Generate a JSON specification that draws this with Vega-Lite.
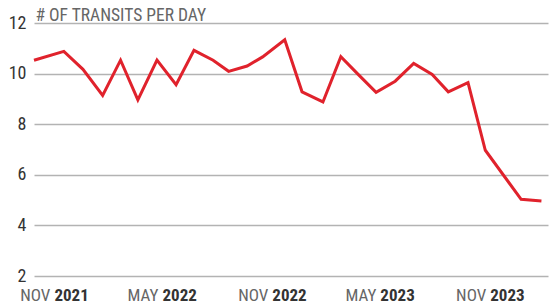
{
  "$schema": "https://vega.github.io/schema/vega-lite/v6.json",
  "width": 514,
  "height": 253,
  "autosize": "none",
  "padding": {"left": 34, "top": 23, "right": 3, "bottom": 27},
  "background": "white",
  "config": {
    "view": {"stroke": null},
    "font": "Liberation Sans Narrow, Roboto Condensed, DejaVu Sans Condensed, sans-serif"
  },
  "data": {
    "values": [
      {"date": "2021-10-02", "transits": 10.53},
      {"date": "2021-11-21", "transits": 10.88},
      {"date": "2021-12-23", "transits": 10.17},
      {"date": "2022-01-25", "transits": 9.14},
      {"date": "2022-02-24", "transits": 10.53},
      {"date": "2022-03-25", "transits": 8.96},
      {"date": "2022-04-26", "transits": 10.53},
      {"date": "2022-05-28", "transits": 9.56},
      {"date": "2022-06-27", "transits": 10.92},
      {"date": "2022-07-29", "transits": 10.53},
      {"date": "2022-08-24", "transits": 10.09},
      {"date": "2022-09-24", "transits": 10.30},
      {"date": "2022-10-20", "transits": 10.66},
      {"date": "2022-11-26", "transits": 11.34},
      {"date": "2022-12-25", "transits": 9.28},
      {"date": "2023-01-29", "transits": 8.88},
      {"date": "2023-02-28", "transits": 10.67},
      {"date": "2023-03-29", "transits": 9.97},
      {"date": "2023-04-28", "transits": 9.26},
      {"date": "2023-05-30", "transits": 9.70},
      {"date": "2023-06-30", "transits": 10.40},
      {"date": "2023-07-31", "transits": 9.97},
      {"date": "2023-08-27", "transits": 9.28},
      {"date": "2023-09-29", "transits": 9.64},
      {"date": "2023-10-28", "transits": 6.97},
      {"date": "2023-12-27", "transits": 5.03},
      {"date": "2024-01-30", "transits": 4.96}
    ]
  },
  "encoding": {
    "y": {
      "field": "transits",
      "type": "quantitative",
      "scale": {"domain": [2, 12], "nice": false, "zero": false},
      "axis": {
        "values": [2, 4, 6, 8, 10, 12],
        "title": "# OF TRANSITS PER DAY",
        "titleAngle": 0,
        "titleAlign": "left",
        "titleBaseline": "alphabetic",
        "titleX": 1,
        "titleY": -3,
        "titleFontSize": 17.5,
        "titleFontWeight": "normal",
        "titleColor": "#666666",
        "labelFontSize": 18,
        "labelColor": "#333333",
        "labelPadding": 8,
        "domain": false,
        "ticks": false,
        "grid": true,
        "gridColor": "#b3b3b3",
        "gridWidth": 1.5
      }
    }
  },
  "layer": [
    {
      "mark": {"type": "line", "color": "#e0222c", "strokeWidth": 3},
      "encoding": {
        "x": {
          "field": "date",
          "type": "temporal",
          "scale": {"type": "utc", "domain": ["2021-10-02", "2024-02-10"]},
          "axis": {
            "orient": "bottom",
            "title": null,
            "values": [
              {"year": 2021, "month": 11, "date": 1, "utc": true},
              {"year": 2022, "month": 5, "date": 1, "utc": true},
              {"year": 2022, "month": 11, "date": 1, "utc": true},
              {"year": 2023, "month": 5, "date": 1, "utc": true},
              {"year": 2023, "month": 11, "date": 1, "utc": true}
            ],
            "labelExpr": "upper(utcFormat(datum.value, '%b'))",
            "labelAlign": "right",
            "labelOffset": -2,
            "labelBaseline": "alphabetic",
            "labelPadding": 24,
            "labelFontSize": 17,
            "labelColor": "#666666",
            "labelOverlap": false,
            "labelFlush": false,
            "labelBound": false,
            "domain": false,
            "ticks": false,
            "grid": false
          }
        }
      }
    },
    {
      "mark": {"type": "line", "strokeOpacity": 0},
      "encoding": {
        "x": {
          "field": "date",
          "type": "temporal",
          "scale": {"type": "utc", "domain": ["2021-10-02", "2024-02-10"]},
          "axis": {
            "orient": "bottom",
            "title": null,
            "values": [
              {"year": 2021, "month": 11, "date": 1, "utc": true},
              {"year": 2022, "month": 5, "date": 1, "utc": true},
              {"year": 2022, "month": 11, "date": 1, "utc": true},
              {"year": 2023, "month": 5, "date": 1, "utc": true},
              {"year": 2023, "month": 11, "date": 1, "utc": true}
            ],
            "labelExpr": "utcFormat(datum.value, '%Y')",
            "labelAlign": "left",
            "labelOffset": 2,
            "labelBaseline": "alphabetic",
            "labelPadding": 24,
            "labelFontSize": 17,
            "labelFontWeight": "bold",
            "labelColor": "#333333",
            "labelOverlap": false,
            "labelFlush": false,
            "labelBound": false,
            "domain": false,
            "ticks": false,
            "grid": false
          }
        }
      }
    }
  ],
  "resolve": {"axis": {"x": "independent"}}
}
